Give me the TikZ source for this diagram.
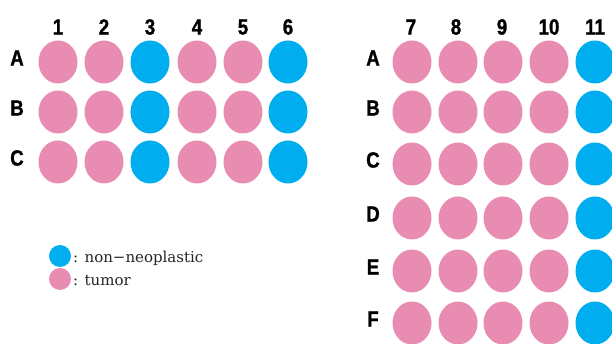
\documentclass[tikz,border=0pt]{standalone}
\usepackage{fontspec}
\setmainfont{Liberation Sans}
\newfontfamily\legendfont{DejaVu Serif}
\newfontfamily\labfont[FakeStretch=0.85,FakeBold=1.2]{Liberation Sans Bold}
\usetikzlibrary{shapes.geometric}
\definecolor{tumorpink}{HTML}{E88DB1}
\definecolor{normblue}{HTML}{00AEEF}
\tikzset{
  well/.style={ellipse, draw=none, inner sep=0pt, minimum width=39pt, minimum height=43pt},
  lwell/.style={ellipse, draw=none, inner sep=0pt, minimum width=22pt, minimum height=22pt},
  lab/.style={font=\labfont\fontsize{22}{22}\selectfont, inner sep=0pt},
  legtext/.style={font=\legendfont\fontsize{15}{15}\selectfont, anchor=base west, inner sep=0pt, text=black!85}
}
\begin{document}
\begin{tikzpicture}[x=1pt,y=-1pt]
\useasboundingbox (0,0) rectangle (612,344);
\fill[white] (0,0) rectangle (612,344);
% left plate
\foreach \c/\x in {1/58,2/104,3/150,4/197,5/243,6/288}{
  \node[lab] (Lcol\c) at (\x,27) {\c};
}
\foreach \r/\y in {A/62,B/112,C/162}{
  \node[lab] (Lrow\r) at (17,\y-4) {\r};
  \foreach \c/\x/\col in {1/58/tumorpink,2/104/tumorpink,3/150/normblue,4/197/tumorpink,5/243/tumorpink,6/288/normblue}{
    \node[well, fill=\col] (L\r\c) at (\x,\y) {};
  }
}
% right plate
\foreach \c/\x in {7/411,8/456,9/502,10/549,11/595}{
  \node[lab] (Rcol\c) at (\x,27) {\c};
}
\foreach \r/\y in {A/62,B/112,C/164,D/218,E/271,F/323}{
  \node[lab] (Rrow\r) at (373,\y-4) {\r};
  \foreach \c/\x/\col in {7/412/tumorpink,8/458/tumorpink,9/503/tumorpink,10/549/tumorpink,11/595/normblue}{
    \node[well, fill=\col] (R\r\c) at (\x,\y) {};
  }
}
% legend
\node[lwell, fill=normblue] (legN) at (60,256) {};
\node[lwell, fill=tumorpink] (legT) at (60,279) {};
\node[legtext] (legNt) at (73,262) {: non−neoplastic};
\node[legtext] (legTt) at (73,285) {: tumor};
\end{tikzpicture}
\end{document}
